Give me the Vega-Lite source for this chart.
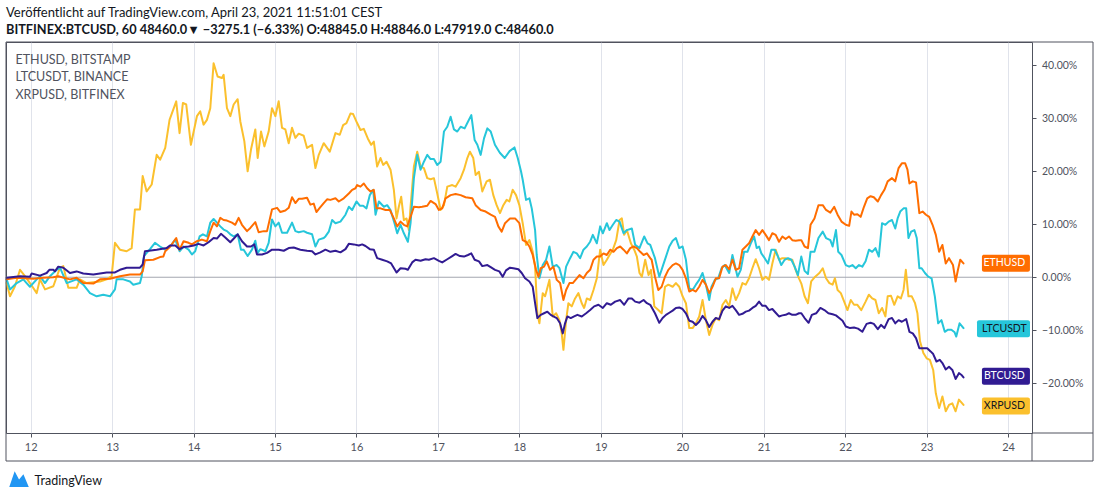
{
"$schema":"https://vega.github.io/schema/vega-lite/v6.json",
"width":1026,"height":391,
"autosize":{"type":"none"},
"padding":{"left":6,"top":42,"right":68,"bottom":65},
"background":"#ffffff",
"title":{"text":"Veröffentlicht auf TradingView.com, April 23, 2021 11:51:01 CEST","subtitle":"BITFINEX:BTCUSD, 60  48460.0▼ −3275.1 (−6.33%)  O:48845.0  H:48846.0  L:47919.0  C:48460.0","anchor":"start","frame":"group","font":"Lato","fontSize":13,"fontWeight":"normal","color":"#131722","subtitleFont":"Lato","subtitleFontSize":12.75,"subtitleColor":"#131722","subtitleFontWeight":"bold","subtitlePadding":4,"offset":5},
"config":{"font":"Lato","view":{"stroke":"#50535e","strokeWidth":1},"axis":{"labelFont":"Lato","labelColor":"#50535e","gridColor":"#e0e3eb","gridWidth":1,"domain":false,"tickColor":"#50535e","tickSize":4}},
"datasets":{
"btc":[{"t":11.705,"v":-0.1},{"t":11.869,"v":0.2},{"t":11.991,"v":0.1},{"t":12.012,"v":0.7},{"t":12.114,"v":0.3},{"t":12.196,"v":0.8},{"t":12.229,"v":1.4},{"t":12.278,"v":1.4},{"t":12.298,"v":1.1},{"t":12.339,"v":2.0},{"t":12.401,"v":1.8},{"t":12.482,"v":0.8},{"t":12.564,"v":1.1},{"t":12.646,"v":0.7},{"t":12.769,"v":0.5},{"t":12.851,"v":0.7},{"t":12.933,"v":0.9},{"t":13.035,"v":0.9},{"t":13.096,"v":1.4},{"t":13.178,"v":1.8},{"t":13.342,"v":1.8},{"t":13.375,"v":2.4},{"t":13.403,"v":4.9},{"t":13.547,"v":5.2},{"t":13.669,"v":5.5},{"t":13.71,"v":6.0},{"t":13.775,"v":6.0},{"t":13.828,"v":5.3},{"t":13.877,"v":5.7},{"t":13.939,"v":5.8},{"t":14.0,"v":6.0},{"t":14.061,"v":6.3},{"t":14.123,"v":6.0},{"t":14.184,"v":6.6},{"t":14.246,"v":7.4},{"t":14.287,"v":7.3},{"t":14.336,"v":8.2},{"t":14.389,"v":7.5},{"t":14.451,"v":6.6},{"t":14.5,"v":7.4},{"t":14.541,"v":8.1},{"t":14.594,"v":6.8},{"t":14.656,"v":5.8},{"t":14.705,"v":5.8},{"t":14.746,"v":6.2},{"t":14.779,"v":4.3},{"t":14.84,"v":4.3},{"t":14.902,"v":4.6},{"t":14.963,"v":5.2},{"t":15.045,"v":5.2},{"t":15.107,"v":5.0},{"t":15.168,"v":5.5},{"t":15.23,"v":5.6},{"t":15.311,"v":5.2},{"t":15.393,"v":5.0},{"t":15.455,"v":4.9},{"t":15.496,"v":4.3},{"t":15.557,"v":4.7},{"t":15.619,"v":5.2},{"t":15.68,"v":4.8},{"t":15.742,"v":5.0},{"t":15.803,"v":4.7},{"t":15.865,"v":5.3},{"t":15.906,"v":6.3},{"t":15.967,"v":6.2},{"t":16.029,"v":6.0},{"t":16.07,"v":6.2},{"t":16.111,"v":5.9},{"t":16.164,"v":5.3},{"t":16.213,"v":5.2},{"t":16.254,"v":3.6},{"t":16.316,"v":3.3},{"t":16.377,"v":3.0},{"t":16.426,"v":2.6},{"t":16.492,"v":0.9},{"t":16.541,"v":1.7},{"t":16.602,"v":1.6},{"t":16.631,"v":1.4},{"t":16.684,"v":2.8},{"t":16.725,"v":3.3},{"t":16.787,"v":3.1},{"t":16.848,"v":3.4},{"t":16.889,"v":3.3},{"t":16.951,"v":3.6},{"t":17.012,"v":3.1},{"t":17.053,"v":2.8},{"t":17.115,"v":3.4},{"t":17.176,"v":4.0},{"t":17.217,"v":4.4},{"t":17.27,"v":4.0},{"t":17.32,"v":3.9},{"t":17.369,"v":4.2},{"t":17.41,"v":4.5},{"t":17.451,"v":3.3},{"t":17.504,"v":3.0},{"t":17.545,"v":2.1},{"t":17.607,"v":2.3},{"t":17.648,"v":1.9},{"t":17.701,"v":1.4},{"t":17.754,"v":1.1},{"t":17.795,"v":0.1},{"t":17.836,"v":1.3},{"t":17.885,"v":1.8},{"t":17.926,"v":1.7},{"t":17.988,"v":1.5},{"t":18.029,"v":0.8},{"t":18.07,"v":-0.2},{"t":18.123,"v":-0.8},{"t":18.164,"v":-1.8},{"t":18.193,"v":-4.9},{"t":18.221,"v":-7.7},{"t":18.262,"v":-7.1},{"t":18.303,"v":-6.8},{"t":18.344,"v":-6.5},{"t":18.385,"v":-7.1},{"t":18.418,"v":-7.4},{"t":18.459,"v":-7.7},{"t":18.5,"v":-8.7},{"t":18.533,"v":-10.6},{"t":18.561,"v":-8.7},{"t":18.59,"v":-7.4},{"t":18.631,"v":-7.7},{"t":18.672,"v":-7.4},{"t":18.713,"v":-7.1},{"t":18.766,"v":-7.4},{"t":18.82,"v":-6.8},{"t":18.869,"v":-6.2},{"t":18.918,"v":-5.5},{"t":18.971,"v":-5.2},{"t":19.025,"v":-5.8},{"t":19.074,"v":-4.9},{"t":19.123,"v":-5.2},{"t":19.176,"v":-4.6},{"t":19.238,"v":-4.3},{"t":19.287,"v":-5.2},{"t":19.34,"v":-4.0},{"t":19.381,"v":-4.0},{"t":19.422,"v":-4.6},{"t":19.475,"v":-4.8},{"t":19.525,"v":-4.3},{"t":19.566,"v":-4.9},{"t":19.607,"v":-5.2},{"t":19.665,"v":-6.8},{"t":19.718,"v":-8.6},{"t":19.759,"v":-7.7},{"t":19.8,"v":-7.1},{"t":19.841,"v":-6.7},{"t":19.882,"v":-6.3},{"t":19.922,"v":-5.8},{"t":19.963,"v":-5.7},{"t":20.004,"v":-6.0},{"t":20.045,"v":-6.8},{"t":20.086,"v":-8.2},{"t":20.127,"v":-8.4},{"t":20.167,"v":-9.0},{"t":20.208,"v":-8.4},{"t":20.249,"v":-7.3},{"t":20.29,"v":-8.1},{"t":20.331,"v":-9.4},{"t":20.371,"v":-8.4},{"t":20.412,"v":-7.7},{"t":20.453,"v":-7.9},{"t":20.494,"v":-6.3},{"t":20.535,"v":-5.5},{"t":20.576,"v":-5.8},{"t":20.616,"v":-5.4},{"t":20.657,"v":-6.2},{"t":20.698,"v":-7.1},{"t":20.739,"v":-6.9},{"t":20.78,"v":-6.5},{"t":20.82,"v":-6.3},{"t":20.861,"v":-5.8},{"t":20.902,"v":-5.4},{"t":20.943,"v":-4.6},{"t":20.984,"v":-5.4},{"t":21.024,"v":-5.4},{"t":21.065,"v":-6.2},{"t":21.106,"v":-6.0},{"t":21.147,"v":-6.7},{"t":21.188,"v":-7.4},{"t":21.229,"v":-7.2},{"t":21.269,"v":-7.1},{"t":21.31,"v":-6.8},{"t":21.351,"v":-7.1},{"t":21.392,"v":-7.1},{"t":21.433,"v":-6.8},{"t":21.462,"v":-6.8},{"t":21.502,"v":-7.7},{"t":21.551,"v":-8.6},{"t":21.591,"v":-7.1},{"t":21.644,"v":-6.8},{"t":21.696,"v":-5.8},{"t":21.745,"v":-6.2},{"t":21.794,"v":-6.8},{"t":21.846,"v":-7.0},{"t":21.887,"v":-7.2},{"t":21.927,"v":-7.7},{"t":21.968,"v":-8.2},{"t":22.008,"v":-9.3},{"t":22.061,"v":-9.6},{"t":22.109,"v":-9.5},{"t":22.158,"v":-9.7},{"t":22.211,"v":-10.3},{"t":22.263,"v":-8.8},{"t":22.312,"v":-8.6},{"t":22.352,"v":-8.8},{"t":22.401,"v":-9.8},{"t":22.441,"v":-9.0},{"t":22.482,"v":-9.6},{"t":22.534,"v":-7.9},{"t":22.575,"v":-7.7},{"t":22.615,"v":-8.7},{"t":22.656,"v":-8.1},{"t":22.696,"v":-8.4},{"t":22.749,"v":-7.9},{"t":22.789,"v":-10.3},{"t":22.83,"v":-10.6},{"t":22.87,"v":-11.5},{"t":22.911,"v":-13.4},{"t":22.96,"v":-13.4},{"t":23.008,"v":-13.4},{"t":23.049,"v":-14.0},{"t":23.081,"v":-14.5},{"t":23.121,"v":-15.9},{"t":23.162,"v":-15.6},{"t":23.194,"v":-16.2},{"t":23.235,"v":-17.4},{"t":23.275,"v":-16.9},{"t":23.316,"v":-17.5},{"t":23.356,"v":-19.2},{"t":23.397,"v":-18.1},{"t":23.425,"v":-18.4},{"t":23.453,"v":-18.9}],
"eth":[{"t":11.705,"v":-0.4},{"t":11.828,"v":-0.1},{"t":12.032,"v":-0.3},{"t":12.155,"v":-0.1},{"t":12.278,"v":0.0},{"t":12.339,"v":0.2},{"t":12.482,"v":-0.4},{"t":12.564,"v":-0.1},{"t":12.646,"v":-1.1},{"t":12.769,"v":-1.2},{"t":12.851,"v":-0.4},{"t":12.974,"v":-0.3},{"t":13.096,"v":0.2},{"t":13.219,"v":0.5},{"t":13.342,"v":0.5},{"t":13.375,"v":1.1},{"t":13.403,"v":3.2},{"t":13.506,"v":3.3},{"t":13.588,"v":3.8},{"t":13.628,"v":3.9},{"t":13.652,"v":4.9},{"t":13.713,"v":5.8},{"t":13.787,"v":7.4},{"t":13.828,"v":5.2},{"t":13.877,"v":6.8},{"t":13.939,"v":6.5},{"t":13.98,"v":6.2},{"t":14.041,"v":6.8},{"t":14.102,"v":7.1},{"t":14.164,"v":6.8},{"t":14.205,"v":8.7},{"t":14.246,"v":10.3},{"t":14.287,"v":9.6},{"t":14.328,"v":11.2},{"t":14.369,"v":10.8},{"t":14.41,"v":10.7},{"t":14.471,"v":10.3},{"t":14.512,"v":9.9},{"t":14.553,"v":11.2},{"t":14.594,"v":9.9},{"t":14.656,"v":8.7},{"t":14.697,"v":9.3},{"t":14.758,"v":10.4},{"t":14.799,"v":8.5},{"t":14.861,"v":8.7},{"t":14.902,"v":8.7},{"t":14.963,"v":12.8},{"t":15.025,"v":13.1},{"t":15.066,"v":12.3},{"t":15.127,"v":12.6},{"t":15.168,"v":13.1},{"t":15.209,"v":15.1},{"t":15.25,"v":14.0},{"t":15.291,"v":14.8},{"t":15.332,"v":14.8},{"t":15.393,"v":15.0},{"t":15.434,"v":13.7},{"t":15.475,"v":13.9},{"t":15.508,"v":12.3},{"t":15.549,"v":13.1},{"t":15.598,"v":14.0},{"t":15.639,"v":14.7},{"t":15.68,"v":14.6},{"t":15.742,"v":14.9},{"t":15.783,"v":14.3},{"t":15.844,"v":14.9},{"t":15.906,"v":15.8},{"t":15.947,"v":16.5},{"t":15.988,"v":16.8},{"t":16.008,"v":17.4},{"t":16.049,"v":17.1},{"t":16.09,"v":17.7},{"t":16.131,"v":16.8},{"t":16.172,"v":16.2},{"t":16.213,"v":16.5},{"t":16.246,"v":13.0},{"t":16.295,"v":13.0},{"t":16.357,"v":12.7},{"t":16.41,"v":12.7},{"t":16.459,"v":11.1},{"t":16.5,"v":9.6},{"t":16.541,"v":10.5},{"t":16.582,"v":9.9},{"t":16.623,"v":9.6},{"t":16.664,"v":11.4},{"t":16.705,"v":13.3},{"t":16.766,"v":13.2},{"t":16.807,"v":13.3},{"t":16.869,"v":13.5},{"t":16.91,"v":14.4},{"t":16.971,"v":13.8},{"t":17.012,"v":12.7},{"t":17.053,"v":13.0},{"t":17.094,"v":14.9},{"t":17.156,"v":15.5},{"t":17.217,"v":15.7},{"t":17.279,"v":15.5},{"t":17.34,"v":15.1},{"t":17.422,"v":14.9},{"t":17.463,"v":13.6},{"t":17.525,"v":12.7},{"t":17.586,"v":12.4},{"t":17.648,"v":11.8},{"t":17.701,"v":11.4},{"t":17.742,"v":9.6},{"t":17.783,"v":8.6},{"t":17.824,"v":10.2},{"t":17.885,"v":11.1},{"t":17.947,"v":11.1},{"t":18.0,"v":10.2},{"t":18.041,"v":7.0},{"t":18.082,"v":6.7},{"t":18.123,"v":5.8},{"t":18.164,"v":4.2},{"t":18.205,"v":1.4},{"t":18.234,"v":0.1},{"t":18.262,"v":1.7},{"t":18.303,"v":2.0},{"t":18.336,"v":3.0},{"t":18.377,"v":1.4},{"t":18.418,"v":2.0},{"t":18.459,"v":-0.5},{"t":18.5,"v":-1.1},{"t":18.541,"v":-4.3},{"t":18.574,"v":-2.4},{"t":18.615,"v":-1.1},{"t":18.656,"v":-1.1},{"t":18.705,"v":-0.2},{"t":18.738,"v":0.4},{"t":18.787,"v":-0.2},{"t":18.828,"v":0.8},{"t":18.869,"v":1.4},{"t":18.91,"v":3.3},{"t":18.951,"v":3.9},{"t":18.992,"v":3.9},{"t":19.033,"v":4.5},{"t":19.074,"v":4.2},{"t":19.115,"v":5.2},{"t":19.156,"v":4.8},{"t":19.197,"v":5.5},{"t":19.238,"v":5.8},{"t":19.279,"v":5.2},{"t":19.32,"v":4.5},{"t":19.361,"v":5.5},{"t":19.402,"v":5.8},{"t":19.443,"v":5.5},{"t":19.484,"v":4.8},{"t":19.525,"v":4.2},{"t":19.566,"v":4.5},{"t":19.607,"v":3.6},{"t":19.624,"v":3.3},{"t":19.665,"v":0.1},{"t":19.706,"v":-2.4},{"t":19.747,"v":-1.8},{"t":19.788,"v":0.1},{"t":19.829,"v":1.4},{"t":19.882,"v":2.3},{"t":19.922,"v":2.6},{"t":19.963,"v":2.3},{"t":20.004,"v":1.4},{"t":20.045,"v":-0.2},{"t":20.086,"v":-2.7},{"t":20.127,"v":-2.4},{"t":20.167,"v":-2.7},{"t":20.208,"v":-1.8},{"t":20.249,"v":-0.5},{"t":20.29,"v":-1.4},{"t":20.331,"v":-3.0},{"t":20.371,"v":-1.8},{"t":20.412,"v":-0.2},{"t":20.453,"v":-0.2},{"t":20.494,"v":2.0},{"t":20.535,"v":2.3},{"t":20.576,"v":1.5},{"t":20.616,"v":3.3},{"t":20.657,"v":1.4},{"t":20.698,"v":1.7},{"t":20.739,"v":5.2},{"t":20.78,"v":5.8},{"t":20.82,"v":6.4},{"t":20.861,"v":7.7},{"t":20.902,"v":8.9},{"t":20.943,"v":8.0},{"t":20.984,"v":8.9},{"t":21.024,"v":8.0},{"t":21.065,"v":7.0},{"t":21.106,"v":8.3},{"t":21.147,"v":8.0},{"t":21.188,"v":6.7},{"t":21.229,"v":7.7},{"t":21.269,"v":7.2},{"t":21.31,"v":7.7},{"t":21.351,"v":7.0},{"t":21.392,"v":6.9},{"t":21.433,"v":7.0},{"t":21.462,"v":7.0},{"t":21.502,"v":5.8},{"t":21.543,"v":5.5},{"t":21.575,"v":9.9},{"t":21.623,"v":11.1},{"t":21.672,"v":13.6},{"t":21.725,"v":13.6},{"t":21.765,"v":12.7},{"t":21.818,"v":12.2},{"t":21.866,"v":13.3},{"t":21.907,"v":11.8},{"t":21.955,"v":10.5},{"t":22.008,"v":9.9},{"t":22.049,"v":9.7},{"t":22.077,"v":12.4},{"t":22.109,"v":11.8},{"t":22.15,"v":11.9},{"t":22.19,"v":11.4},{"t":22.231,"v":13.3},{"t":22.271,"v":14.9},{"t":22.312,"v":15.3},{"t":22.352,"v":15.1},{"t":22.401,"v":14.3},{"t":22.441,"v":15.5},{"t":22.482,"v":16.5},{"t":22.522,"v":18.1},{"t":22.575,"v":18.7},{"t":22.615,"v":18.1},{"t":22.656,"v":20.6},{"t":22.696,"v":21.5},{"t":22.737,"v":21.5},{"t":22.765,"v":20.3},{"t":22.789,"v":17.7},{"t":22.83,"v":18.1},{"t":22.87,"v":17.9},{"t":22.911,"v":12.1},{"t":22.951,"v":12.4},{"t":22.992,"v":11.8},{"t":23.032,"v":11.4},{"t":23.073,"v":9.9},{"t":23.113,"v":8.0},{"t":23.154,"v":4.8},{"t":23.194,"v":6.1},{"t":23.235,"v":2.6},{"t":23.275,"v":3.6},{"t":23.324,"v":2.3},{"t":23.356,"v":-0.8},{"t":23.385,"v":1.4},{"t":23.413,"v":3.3},{"t":23.453,"v":2.6}],
"ltc":[{"t":11.705,"v":-0.4},{"t":11.746,"v":-2.3},{"t":11.828,"v":-1.1},{"t":11.91,"v":-0.4},{"t":11.95,"v":-1.1},{"t":11.991,"v":-1.8},{"t":12.074,"v":-0.4},{"t":12.114,"v":0.2},{"t":12.176,"v":-1.1},{"t":12.237,"v":0.2},{"t":12.319,"v":1.4},{"t":12.36,"v":1.8},{"t":12.442,"v":-1.1},{"t":12.564,"v":-0.4},{"t":12.646,"v":-1.4},{"t":12.728,"v":-3.0},{"t":12.81,"v":-3.6},{"t":12.891,"v":-3.3},{"t":12.974,"v":-3.6},{"t":13.035,"v":-2.3},{"t":13.055,"v":-0.4},{"t":13.137,"v":-0.4},{"t":13.219,"v":-0.8},{"t":13.26,"v":-1.4},{"t":13.342,"v":-1.1},{"t":13.363,"v":0.2},{"t":13.391,"v":4.0},{"t":13.465,"v":5.3},{"t":13.526,"v":6.5},{"t":13.588,"v":5.8},{"t":13.652,"v":5.2},{"t":13.713,"v":5.8},{"t":13.775,"v":7.1},{"t":13.828,"v":4.9},{"t":13.877,"v":5.8},{"t":13.939,"v":5.2},{"t":13.98,"v":4.3},{"t":14.02,"v":4.9},{"t":14.074,"v":7.7},{"t":14.115,"v":8.1},{"t":14.164,"v":7.7},{"t":14.205,"v":10.3},{"t":14.246,"v":11.0},{"t":14.287,"v":10.3},{"t":14.328,"v":9.6},{"t":14.369,"v":9.0},{"t":14.41,"v":8.7},{"t":14.451,"v":8.1},{"t":14.492,"v":7.7},{"t":14.541,"v":8.1},{"t":14.582,"v":5.2},{"t":14.615,"v":5.2},{"t":14.664,"v":4.0},{"t":14.717,"v":5.2},{"t":14.758,"v":6.9},{"t":14.787,"v":4.6},{"t":14.82,"v":5.3},{"t":14.881,"v":4.9},{"t":14.922,"v":6.5},{"t":14.963,"v":10.9},{"t":15.004,"v":9.6},{"t":15.045,"v":10.3},{"t":15.086,"v":8.4},{"t":15.148,"v":8.4},{"t":15.209,"v":10.3},{"t":15.25,"v":8.7},{"t":15.291,"v":8.5},{"t":15.352,"v":8.7},{"t":15.393,"v":8.4},{"t":15.455,"v":8.1},{"t":15.496,"v":5.8},{"t":15.537,"v":7.1},{"t":15.598,"v":7.4},{"t":15.619,"v":7.7},{"t":15.66,"v":8.6},{"t":15.701,"v":10.8},{"t":15.742,"v":10.2},{"t":15.803,"v":10.5},{"t":15.865,"v":11.8},{"t":15.906,"v":13.3},{"t":15.947,"v":12.7},{"t":16.0,"v":14.3},{"t":16.041,"v":13.5},{"t":16.082,"v":13.5},{"t":16.123,"v":13.0},{"t":16.164,"v":15.5},{"t":16.205,"v":16.5},{"t":16.234,"v":11.8},{"t":16.275,"v":14.3},{"t":16.336,"v":13.3},{"t":16.377,"v":13.6},{"t":16.418,"v":12.7},{"t":16.467,"v":10.2},{"t":16.5,"v":8.3},{"t":16.541,"v":9.9},{"t":16.582,"v":8.3},{"t":16.631,"v":6.7},{"t":16.664,"v":10.2},{"t":16.705,"v":18.7},{"t":16.746,"v":23.1},{"t":16.787,"v":20.3},{"t":16.828,"v":21.8},{"t":16.869,"v":23.1},{"t":16.91,"v":22.3},{"t":16.951,"v":22.3},{"t":16.992,"v":21.2},{"t":17.033,"v":21.8},{"t":17.074,"v":27.5},{"t":17.115,"v":28.4},{"t":17.156,"v":30.3},{"t":17.197,"v":27.9},{"t":17.238,"v":27.5},{"t":17.279,"v":28.4},{"t":17.328,"v":28.1},{"t":17.361,"v":29.1},{"t":17.41,"v":30.6},{"t":17.451,"v":25.9},{"t":17.484,"v":25.0},{"t":17.525,"v":23.1},{"t":17.566,"v":26.2},{"t":17.607,"v":28.1},{"t":17.648,"v":27.5},{"t":17.7,"v":25.0},{"t":17.76,"v":23.5},{"t":17.82,"v":22.5},{"t":17.88,"v":23.8},{"t":17.94,"v":24.5},{"t":17.98,"v":22.5},{"t":18.02,"v":20.0},{"t":18.041,"v":18.4},{"t":18.082,"v":14.6},{"t":18.123,"v":14.9},{"t":18.152,"v":13.0},{"t":18.193,"v":8.9},{"t":18.213,"v":4.2},{"t":18.246,"v":-0.2},{"t":18.287,"v":2.3},{"t":18.328,"v":3.3},{"t":18.369,"v":5.8},{"t":18.41,"v":2.0},{"t":18.459,"v":2.3},{"t":18.492,"v":1.7},{"t":18.541,"v":-1.1},{"t":18.574,"v":2.0},{"t":18.623,"v":3.6},{"t":18.664,"v":4.8},{"t":18.705,"v":4.5},{"t":18.746,"v":3.6},{"t":18.787,"v":5.2},{"t":18.828,"v":5.8},{"t":18.869,"v":6.7},{"t":18.902,"v":8.0},{"t":18.951,"v":6.4},{"t":18.992,"v":9.6},{"t":19.025,"v":8.3},{"t":19.074,"v":10.2},{"t":19.107,"v":8.9},{"t":19.148,"v":9.9},{"t":19.189,"v":10.8},{"t":19.23,"v":10.5},{"t":19.279,"v":8.3},{"t":19.32,"v":8.9},{"t":19.381,"v":9.2},{"t":19.422,"v":6.1},{"t":19.475,"v":5.5},{"t":19.533,"v":7.7},{"t":19.574,"v":6.4},{"t":19.607,"v":6.1},{"t":19.665,"v":3.6},{"t":19.718,"v":0.1},{"t":19.759,"v":2.0},{"t":19.8,"v":3.9},{"t":19.841,"v":5.8},{"t":19.882,"v":6.9},{"t":19.922,"v":7.4},{"t":19.963,"v":5.5},{"t":20.004,"v":5.8},{"t":20.045,"v":3.3},{"t":20.086,"v":-2.1},{"t":20.127,"v":-2.4},{"t":20.167,"v":-1.4},{"t":20.208,"v":-0.5},{"t":20.249,"v":0.8},{"t":20.29,"v":-1.4},{"t":20.331,"v":-4.3},{"t":20.359,"v":-1.8},{"t":20.4,"v":-0.5},{"t":20.441,"v":-0.2},{"t":20.482,"v":1.7},{"t":20.522,"v":2.3},{"t":20.576,"v":0.8},{"t":20.616,"v":4.2},{"t":20.645,"v":2.3},{"t":20.678,"v":0.1},{"t":20.718,"v":1.4},{"t":20.759,"v":4.8},{"t":20.8,"v":4.8},{"t":20.841,"v":6.4},{"t":20.882,"v":7.7},{"t":20.914,"v":5.5},{"t":20.943,"v":5.8},{"t":20.971,"v":4.5},{"t":21.012,"v":3.6},{"t":21.053,"v":2.6},{"t":21.094,"v":5.2},{"t":21.135,"v":5.2},{"t":21.176,"v":3.9},{"t":21.216,"v":2.3},{"t":21.257,"v":3.3},{"t":21.298,"v":3.6},{"t":21.339,"v":3.3},{"t":21.38,"v":2.0},{"t":21.42,"v":0.4},{"t":21.461,"v":3.9},{"t":21.502,"v":1.2},{"t":21.543,"v":0.6},{"t":21.575,"v":4.8},{"t":21.623,"v":4.8},{"t":21.672,"v":7.4},{"t":21.725,"v":8.6},{"t":21.765,"v":7.4},{"t":21.818,"v":7.0},{"t":21.846,"v":5.8},{"t":21.887,"v":8.9},{"t":21.915,"v":4.8},{"t":21.955,"v":4.2},{"t":22.008,"v":2.3},{"t":22.049,"v":2.0},{"t":22.089,"v":2.3},{"t":22.13,"v":1.7},{"t":22.17,"v":2.3},{"t":22.211,"v":2.0},{"t":22.251,"v":3.0},{"t":22.292,"v":5.2},{"t":22.332,"v":4.8},{"t":22.372,"v":5.5},{"t":22.413,"v":3.9},{"t":22.453,"v":10.2},{"t":22.494,"v":9.9},{"t":22.534,"v":10.5},{"t":22.575,"v":10.8},{"t":22.615,"v":9.2},{"t":22.644,"v":11.1},{"t":22.676,"v":12.4},{"t":22.717,"v":13.0},{"t":22.749,"v":13.0},{"t":22.777,"v":7.4},{"t":22.81,"v":8.6},{"t":22.85,"v":8.9},{"t":22.879,"v":7.4},{"t":22.911,"v":1.7},{"t":22.939,"v":1.7},{"t":22.98,"v":0.8},{"t":23.02,"v":0.1},{"t":23.061,"v":-0.2},{"t":23.101,"v":-3.6},{"t":23.142,"v":-8.7},{"t":23.182,"v":-8.1},{"t":23.223,"v":-10.3},{"t":23.263,"v":-9.9},{"t":23.304,"v":-9.9},{"t":23.344,"v":-10.4},{"t":23.364,"v":-11.2},{"t":23.405,"v":-8.7},{"t":23.453,"v":-9.6}],
"xrp":[{"t":11.705,"v":-1.1},{"t":11.746,"v":-3.6},{"t":11.807,"v":-1.7},{"t":11.869,"v":1.4},{"t":11.93,"v":0.2},{"t":11.991,"v":-1.1},{"t":12.074,"v":-3.0},{"t":12.114,"v":-0.4},{"t":12.176,"v":-2.3},{"t":12.278,"v":-1.7},{"t":12.36,"v":1.8},{"t":12.401,"v":2.1},{"t":12.462,"v":-2.0},{"t":12.564,"v":-2.0},{"t":12.605,"v":-0.4},{"t":12.687,"v":-1.1},{"t":12.851,"v":-0.8},{"t":12.933,"v":-0.4},{"t":12.994,"v":0.2},{"t":13.035,"v":6.5},{"t":13.096,"v":5.2},{"t":13.178,"v":4.9},{"t":13.24,"v":5.5},{"t":13.28,"v":12.8},{"t":13.342,"v":12.8},{"t":13.375,"v":19.1},{"t":13.424,"v":16.2},{"t":13.486,"v":17.5},{"t":13.547,"v":23.1},{"t":13.59,"v":22.2},{"t":13.652,"v":24.4},{"t":13.705,"v":29.7},{"t":13.787,"v":33.2},{"t":13.828,"v":27.2},{"t":13.869,"v":32.9},{"t":13.91,"v":32.6},{"t":13.967,"v":25.0},{"t":14.041,"v":30.4},{"t":14.082,"v":31.3},{"t":14.123,"v":28.8},{"t":14.164,"v":29.7},{"t":14.205,"v":31.9},{"t":14.246,"v":40.4},{"t":14.295,"v":37.9},{"t":14.348,"v":37.6},{"t":14.369,"v":38.2},{"t":14.41,"v":31.9},{"t":14.451,"v":30.4},{"t":14.492,"v":32.6},{"t":14.541,"v":33.6},{"t":14.574,"v":29.4},{"t":14.623,"v":25.7},{"t":14.664,"v":20.0},{"t":14.705,"v":24.1},{"t":14.758,"v":27.9},{"t":14.787,"v":22.5},{"t":14.828,"v":27.5},{"t":14.869,"v":24.7},{"t":14.922,"v":27.5},{"t":14.963,"v":31.9},{"t":15.004,"v":30.4},{"t":15.045,"v":33.2},{"t":15.086,"v":28.2},{"t":15.127,"v":27.9},{"t":15.168,"v":25.3},{"t":15.209,"v":28.2},{"t":15.25,"v":26.3},{"t":15.291,"v":27.1},{"t":15.352,"v":26.7},{"t":15.393,"v":24.4},{"t":15.455,"v":25.0},{"t":15.496,"v":20.6},{"t":15.537,"v":23.1},{"t":15.598,"v":25.3},{"t":15.672,"v":23.7},{"t":15.742,"v":27.2},{"t":15.795,"v":26.9},{"t":15.836,"v":28.7},{"t":15.877,"v":29.1},{"t":15.926,"v":30.9},{"t":15.959,"v":30.8},{"t":16.008,"v":29.1},{"t":16.049,"v":27.8},{"t":16.09,"v":28.0},{"t":16.139,"v":26.2},{"t":16.18,"v":25.0},{"t":16.213,"v":25.6},{"t":16.254,"v":20.9},{"t":16.295,"v":22.5},{"t":16.328,"v":21.2},{"t":16.369,"v":21.8},{"t":16.418,"v":20.3},{"t":16.459,"v":16.5},{"t":16.492,"v":11.1},{"t":16.52,"v":13.3},{"t":16.549,"v":15.2},{"t":16.582,"v":10.8},{"t":16.615,"v":11.1},{"t":16.643,"v":8.9},{"t":16.664,"v":13.3},{"t":16.705,"v":20.9},{"t":16.746,"v":23.7},{"t":16.787,"v":20.9},{"t":16.828,"v":20.6},{"t":16.869,"v":18.7},{"t":16.91,"v":18.5},{"t":16.951,"v":18.7},{"t":16.992,"v":15.8},{"t":17.033,"v":12.7},{"t":17.074,"v":13.6},{"t":17.115,"v":17.1},{"t":17.176,"v":17.4},{"t":17.217,"v":17.1},{"t":17.279,"v":18.7},{"t":17.32,"v":20.3},{"t":17.361,"v":22.5},{"t":17.393,"v":23.7},{"t":17.434,"v":22.5},{"t":17.463,"v":19.3},{"t":17.504,"v":19.9},{"t":17.545,"v":16.2},{"t":17.598,"v":18.1},{"t":17.639,"v":18.4},{"t":17.68,"v":15.5},{"t":17.721,"v":13.6},{"t":17.762,"v":12.1},{"t":17.803,"v":13.6},{"t":17.844,"v":14.6},{"t":17.877,"v":14.3},{"t":17.918,"v":16.5},{"t":17.959,"v":15.5},{"t":18.0,"v":13.6},{"t":18.041,"v":10.2},{"t":18.082,"v":6.1},{"t":18.123,"v":7.0},{"t":18.164,"v":4.8},{"t":18.193,"v":2.0},{"t":18.221,"v":-6.8},{"t":18.246,"v":-8.7},{"t":18.287,"v":-3.0},{"t":18.316,"v":-3.6},{"t":18.369,"v":-0.5},{"t":18.41,"v":-7.4},{"t":18.451,"v":-6.8},{"t":18.492,"v":-8.1},{"t":18.52,"v":-10.6},{"t":18.541,"v":-13.7},{"t":18.574,"v":-8.1},{"t":18.602,"v":-4.9},{"t":18.643,"v":-5.5},{"t":18.684,"v":-4.0},{"t":18.725,"v":-3.0},{"t":18.766,"v":-4.9},{"t":18.795,"v":-5.8},{"t":18.828,"v":-4.0},{"t":18.869,"v":-4.3},{"t":18.91,"v":-2.4},{"t":18.951,"v":-0.2},{"t":18.992,"v":5.2},{"t":19.033,"v":2.3},{"t":19.074,"v":3.3},{"t":19.107,"v":4.2},{"t":19.148,"v":5.2},{"t":19.189,"v":7.0},{"t":19.23,"v":10.8},{"t":19.258,"v":11.1},{"t":19.287,"v":8.0},{"t":19.32,"v":8.9},{"t":19.369,"v":6.4},{"t":19.41,"v":5.2},{"t":19.443,"v":3.9},{"t":19.475,"v":0.8},{"t":19.504,"v":0.1},{"t":19.545,"v":3.3},{"t":19.586,"v":0.4},{"t":19.616,"v":1.4},{"t":19.657,"v":-5.5},{"t":19.706,"v":-6.2},{"t":19.747,"v":-6.8},{"t":19.788,"v":-1.8},{"t":19.829,"v":-1.4},{"t":19.882,"v":-1.8},{"t":19.922,"v":-1.1},{"t":19.963,"v":-1.8},{"t":20.004,"v":-3.6},{"t":20.045,"v":-4.9},{"t":20.086,"v":-9.6},{"t":20.127,"v":-9.6},{"t":20.167,"v":-8.7},{"t":20.208,"v":-7.4},{"t":20.249,"v":-4.3},{"t":20.29,"v":-8.1},{"t":20.331,"v":-10.9},{"t":20.371,"v":-9.0},{"t":20.412,"v":-7.7},{"t":20.453,"v":-8.1},{"t":20.494,"v":-5.2},{"t":20.535,"v":-4.3},{"t":20.576,"v":-5.5},{"t":20.616,"v":-2.1},{"t":20.657,"v":-4.3},{"t":20.698,"v":-3.0},{"t":20.739,"v":-1.1},{"t":20.78,"v":-1.4},{"t":20.82,"v":-0.2},{"t":20.861,"v":1.7},{"t":20.902,"v":3.4},{"t":20.943,"v":1.7},{"t":20.984,"v":-0.5},{"t":21.024,"v":0.1},{"t":21.065,"v":-0.5},{"t":21.106,"v":2.6},{"t":21.147,"v":5.2},{"t":21.188,"v":3.3},{"t":21.229,"v":3.6},{"t":21.269,"v":3.6},{"t":21.31,"v":3.3},{"t":21.351,"v":3.3},{"t":21.392,"v":1.4},{"t":21.433,"v":-0.2},{"t":21.462,"v":-1.2},{"t":21.502,"v":-3.6},{"t":21.543,"v":-4.9},{"t":21.583,"v":-0.8},{"t":21.632,"v":0.1},{"t":21.684,"v":0.8},{"t":21.725,"v":1.7},{"t":21.765,"v":-0.2},{"t":21.806,"v":-1.1},{"t":21.846,"v":-1.4},{"t":21.874,"v":-0.2},{"t":21.907,"v":-2.4},{"t":21.947,"v":-3.0},{"t":21.988,"v":-4.6},{"t":22.028,"v":-6.2},{"t":22.069,"v":-4.3},{"t":22.109,"v":-5.2},{"t":22.15,"v":-5.2},{"t":22.198,"v":-6.2},{"t":22.251,"v":-4.6},{"t":22.291,"v":-3.3},{"t":22.332,"v":-4.0},{"t":22.372,"v":-4.3},{"t":22.413,"v":-6.8},{"t":22.453,"v":-5.8},{"t":22.494,"v":-7.4},{"t":22.522,"v":-3.6},{"t":22.563,"v":-3.5},{"t":22.603,"v":-5.2},{"t":22.644,"v":-3.6},{"t":22.684,"v":-4.0},{"t":22.717,"v":-2.4},{"t":22.745,"v":1.4},{"t":22.777,"v":-3.6},{"t":22.818,"v":-3.6},{"t":22.858,"v":-4.9},{"t":22.887,"v":-6.8},{"t":22.919,"v":-12.1},{"t":22.96,"v":-14.3},{"t":23.0,"v":-15.3},{"t":23.04,"v":-15.6},{"t":23.081,"v":-17.5},{"t":23.113,"v":-21.9},{"t":23.154,"v":-24.7},{"t":23.194,"v":-22.5},{"t":23.235,"v":-25.3},{"t":23.275,"v":-24.1},{"t":23.316,"v":-23.8},{"t":23.356,"v":-25.3},{"t":23.397,"v":-23.1},{"t":23.453,"v":-24.1}],
"labels":[{"name":"ETHUSD","v":2.65},{"name":"LTCUSDT","v":-9.7},{"name":"BTCUSD","v":-18.7},{"name":"XRPUSD","v":-24.3}]
},
"layer":[
{"data":{"values":[{}]},"mark":{"type":"rule","color":"#a3a6af","strokeWidth":1},"encoding":{"y":{"datum":0,"type":"quantitative"}}},
{"data":{"name":"xrp"},"mark":{"type":"line","strokeWidth":2,"strokeJoin":"round","strokeCap":"round"},
 "encoding":{
  "x":{"field":"t","type":"quantitative","scale":{"domain":[11.697,24.294],"nice":false,"zero":false},
       "axis":{"values":[12,13,14,15,16,17,18,19,20,21,22,23,24],"format":"d","labelFontSize":11,"labelPadding":4,"labelFlush":false,"title":"TradingView","titleAnchor":"start","titleAlign":"left","titleX":28,"titleY":47,"titleBaseline":"middle","titleFont":"Lato","titleFontSize":12.5,"titleFontWeight":"normal","titleColor":"#131722"}},
  "y":{"field":"v","type":"quantitative","scale":{"domain":[-29.4,44.4],"nice":false,"zero":false},
       "axis":{"orient":"right","values":[-20,-10,0,10,20,30,40],"labelExpr":"format(datum.value,'.2f')+'%'","title":null,"labelFontSize":10.5,"labelPadding":5.5}},
  "color":{"datum":"XRPUSD","type":"nominal","title":null,"scale":{"domain":["BTCUSD","ETHUSD","LTCUSDT","XRPUSD"],"range":["#311b92","#ff6d00","#26c6da","#fbc02d"]},
       "legend":{"values":["ETHUSD","LTCUSDT","XRPUSD"],"orient":"none","legendX":-3,"legendY":12,"title":null,"symbolSize":0,"symbolOpacity":0,"symbolStrokeWidth":0,"labelOffset":0,"labelFontSize":12.5,"labelColor":"#50535e","labelFont":"Lato","rowPadding":4.2,"padding":0,
       "labelExpr":"datum.label=='ETHUSD'?'ETHUSD, BITSTAMP':datum.label=='LTCUSDT'?'LTCUSDT, BINANCE':'XRPUSD, BITFINEX'"}}}},
{"data":{"name":"ltc"},"mark":{"type":"line","strokeWidth":2,"strokeJoin":"round","strokeCap":"round"},
 "encoding":{"x":{"field":"t","type":"quantitative"},"y":{"field":"v","type":"quantitative"},"color":{"datum":"LTCUSDT","type":"nominal","title":null}}},
{"data":{"name":"eth"},"mark":{"type":"line","strokeWidth":2,"strokeJoin":"round","strokeCap":"round"},
 "encoding":{"x":{"field":"t","type":"quantitative"},"y":{"field":"v","type":"quantitative"},"color":{"datum":"ETHUSD","type":"nominal","title":null}}},
{"data":{"name":"btc"},"mark":{"type":"line","strokeWidth":2,"strokeJoin":"round","strokeCap":"round"},
 "encoding":{"x":{"field":"t","type":"quantitative"},"y":{"field":"v","type":"quantitative"},"color":{"datum":"BTCUSD","type":"nominal","title":null}}},
{"data":{"name":"labels"},"transform":[{"filter":"datum.name!='LTCUSDT'"}],"mark":{"type":"rect","width":48,"height":17,"cornerRadius":2},
 "encoding":{"x":{"datum":23.974,"type":"quantitative"},"y":{"field":"v","type":"quantitative"},"color":{"field":"name","type":"nominal","title":null}}},
{"data":{"name":"labels"},"transform":[{"filter":"datum.name=='LTCUSDT'"}],"mark":{"type":"rect","width":53,"height":17,"cornerRadius":2},
 "encoding":{"x":{"datum":23.944,"type":"quantitative"},"y":{"field":"v","type":"quantitative"},"color":{"field":"name","type":"nominal","title":null}}},
{"data":{"name":"labels"},"mark":{"type":"text","font":"Lato","fontSize":10.5,"align":"center","baseline":"middle"},
 "encoding":{"x":{"datum":23.955,"type":"quantitative"},"y":{"field":"v","type":"quantitative"},"text":{"field":"name"},
  "color":{"condition":{"test":"datum.name=='LTCUSDT'||datum.name=='XRPUSD'","value":"#131722"},"value":"#ffffff"}}},
{"data":{"values":[{}]},"mark":{"type":"rect","fill":"transparent","stroke":"#50535e","strokeWidth":1},
 "encoding":{"x":{"datum":11.697,"type":"quantitative"},"x2":{"datum":25.043},"y":{"datum":44.4,"type":"quantitative"},"y2":{"datum":-34.685}}},
{"data":{"values":[{}]},"mark":{"type":"rule","color":"#50535e","strokeWidth":1},
 "encoding":{"x":{"datum":24.294,"type":"quantitative"},"x2":{"datum":25.043},"y":{"datum":-29.4,"type":"quantitative"}}},
{"data":{"values":[{}]},"mark":{"type":"rule","color":"#50535e","strokeWidth":1},
 "encoding":{"x":{"datum":24.294,"type":"quantitative"},"y":{"datum":-29.4,"type":"quantitative"},"y2":{"datum":-34.685}}},
{"data":{"values":[{}]},"mark":{"type":"point","shape":"M-1,0.8L-0.45,-0.8L0,0.05L0.45,-0.5L1,0.8Z","filled":true,"color":"#2196f3","opacity":1,"size":380},
 "encoding":{"x":{"datum":11.857,"type":"quantitative"},"y":{"datum":-38.1,"type":"quantitative"}}}
]
}
